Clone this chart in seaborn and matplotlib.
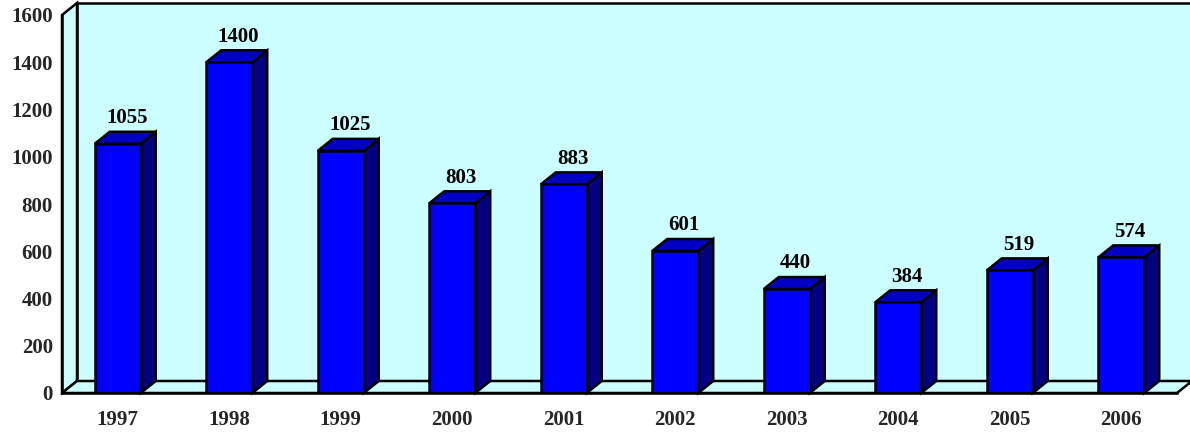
import matplotlib
matplotlib.use("Agg")
import matplotlib.pyplot as plt
from matplotlib.patches import Polygon
import seaborn as sns
import pandas as pd

years = ["1997", "1998", "1999", "2000", "2001", "2002", "2003", "2004", "2005", "2006"]
values = [1055, 1400, 1025, 803, 883, 601, 440, 384, 519, 574]
yticks = [0, 200, 400, 600, 800, 1000, 1200, 1400, 1600]

sns.set_style("white")
plt.rcParams["font.family"] = ["Liberation Serif", "DejaVu Serif"]
plt.rcParams["font.weight"] = "bold"

FRONT = "#0000FF"
TOP = "#0000C4"
SIDE = "#000080"
WALL = "#CCFFFF"
LW = 1.8

fig = plt.figure(figsize=(11.9, 4.37), dpi=100)
ax = fig.add_axes([62 / 1190, 44 / 437, 1115 / 1190, 378 / 437])

df = pd.DataFrame({"year": years, "value": values})
BW = 0.4126
sns.barplot(data=df, x="year", y="value", width=BW, color=FRONT, saturation=1,
            edgecolor="black", linewidth=LW, ax=ax, zorder=3)

ax.set_xlim(-0.5, len(years) - 0.5)
ax.set_ylim(0, 1600)
ax.patch.set_alpha(0)

# depth offsets (in data units): 15 px right, 12 px up
dx = 15 / (1115 / len(years))
dy = 12 / (378 / 1600)
x0, x1 = -0.5, len(years) - 0.5

# back wall, left wall, floor
back = Polygon([(x0 + dx, dy), (x1 + dx, dy), (x1 + dx, 1600 + dy), (x0 + dx, 1600 + dy)],
               closed=True, facecolor=WALL, edgecolor="black", lw=LW, zorder=0, clip_on=False)
left = Polygon([(x0, 0), (x0 + dx, dy), (x0 + dx, 1600 + dy), (x0, 1600)],
               closed=True, facecolor=WALL, edgecolor="black", lw=LW, zorder=0.5, clip_on=False)
floor = Polygon([(x0, 0), (x1, 0), (x1 + dx, dy), (x0 + dx, dy)],
                closed=True, facecolor=WALL, edgecolor="black", lw=LW, zorder=1, clip_on=False)
for p in (back, left, floor):
    ax.add_patch(p)

# 3D sides and tops of the bars
for i, v in enumerate(values):
    xl, xr = i - BW / 2, i + BW / 2
    side = Polygon([(xr, 0), (xr + dx, dy), (xr + dx, v + dy), (xr, v)], closed=True,
                   facecolor=SIDE, edgecolor="black", lw=LW, zorder=2.5, clip_on=False)
    top = Polygon([(xl, v), (xr, v), (xr + dx, v + dy), (xl + dx, v + dy)], closed=True,
                  facecolor=TOP, edgecolor="black", lw=LW, zorder=2.5, clip_on=False)
    ax.add_patch(side)
    ax.add_patch(top)
    ax.text(i + 0.08, v + dy + 58, str(v), ha="center", va="center",
            fontsize=15, fontweight="bold", color="black", clip_on=False)

# axes styling
for s in ("top", "right"):
    ax.spines[s].set_visible(False)
for s in ("left", "bottom"):
    ax.spines[s].set_color("black")
    ax.spines[s].set_linewidth(LW)
    ax.spines[s].set_zorder(4)

ax.set_yticks(yticks)
ax.set_yticklabels([str(t) for t in yticks], fontsize=15, fontweight="bold")
ax.set_xticks(range(len(years)))
ax.set_xticklabels(years, fontsize=15, fontweight="bold")
ax.set_xticks([k - 0.5 for k in range(len(years) + 1)], minor=True)
ax.tick_params(axis="x", which="major", length=0, pad=12)
ax.tick_params(axis="x", which="minor", length=5, width=LW, color="black", direction="out")
ax.tick_params(axis="y", which="major", length=4.5, width=LW, color="black",
               direction="out", pad=2)
ax.set_xlabel("")
ax.set_ylabel("")
ax.grid(False)

fig.savefig("out.png", dpi=100, facecolor="white")
